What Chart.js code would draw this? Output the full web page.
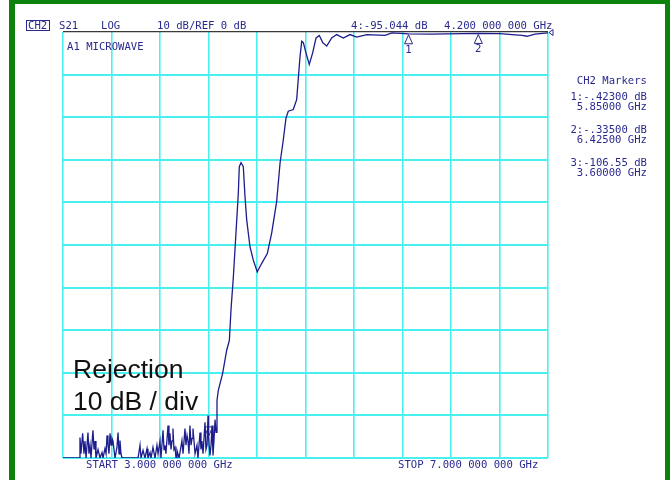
<!DOCTYPE html>
<html lang="en">
<head>
    <meta charset="UTF-8">
    <title>S21 Microwave Rejection</title>
    <script src="https://cdn.jsdelivr.net/npm/chart.js@4.4.0/dist/chart.umd.min.js"></script>
    <style>
        body{
            margin: 0;
            background: white;
            overflow: hidden;
        }
        #wrap{
            position: relative;
            width: 670px;
            height: 480px;
        }
        #frame{
            position: absolute;
            left: 9px;
            top: -2px;
            width: 650px;
            height: 500px;
            border: 6px solid #0c820c;
            pointer-events: none;
        }
    </style>
</head>
<body>
<div id="wrap">
    <canvas id="myChart" width="670" height="480"></canvas>
    <div id="frame"></div>
</div>
<script>
// frequency in GHz, S21 in dB
var freqs = [3.000,3.132,3.140,3.148,3.162,3.173,3.181,3.190,3.206,3.214,3.223,3.231,3.247,3.256,3.264,3.272,
    3.289,3.305,3.322,3.330,3.346,3.355,3.363,3.371,3.379,3.388,3.396,3.404,3.412,3.429,3.445,3.454,3.462,3.470,
    3.478,3.487,3.619,3.635,3.643,3.660,3.676,3.693,3.701,3.718,3.726,3.742,3.759,3.775,3.784,3.800,3.808,3.825,
    3.833,3.841,3.849,3.866,3.874,3.882,3.891,3.899,3.907,3.915,3.924,3.932,3.940,3.957,3.965,3.981,3.990,4.006,
    4.014,4.023,4.031,4.039,4.047,4.056,4.064,4.072,4.089,4.105,4.113,4.130,4.138,4.146,4.155,4.171,4.179,4.188,
    4.196,4.200,4.212,4.221,4.229,4.237,4.245,4.254,4.262,4.270,4.281,4.317,4.350,4.372,4.386,4.405,4.433,4.446,
    4.454,4.468,4.487,4.501,4.515,4.542,4.569,4.602,4.639,4.685,4.721,4.762,4.790,4.817,4.839,4.858,4.899,4.927,
    4.941,4.955,4.969,4.982,5.004,5.031,5.059,5.087,5.114,5.142,5.175,5.216,5.257,5.312,5.367,5.422,5.507,5.656,
    5.713,5.850,6.043,6.291,6.425,6.604,6.703,6.786,6.827,6.893,7.000];
var s21 = [-100,-100,-95.2,-99,-94.2,-99,-96,-100,-94,-99,-97,-100,-93.5,-98,-96,-100,
    -98,-100,-98.7,-100,-97.8,-99,-94.7,-97,-99,-94.2,-97,-95.4,-96,-100,-97.5,-94,-99,-95.9,
    -99,-100,-100,-97,-100,-98.2,-100,-97.8,-100,-98.7,-100,-97.5,-100,-97,-99,-96,-100,-93.5,
    -98,-97,-99,-92.4,-97,-94.2,-98,-96,-93.1,-98,-97.5,-100,-98.2,-100,-98.7,-95.9,-99,-93.1,
    -97,-94.7,-96,-99,-92.4,-97,-95.4,-93.1,-99,-97,-100,-94,-98,-96,-99,-91.6,-98,-97,
    -90,-95.04,-99.4,-97,-92.4,-99.4,-96,-91,-94,-86.5,-84.1,-80.1,-74.7,-72.4,-65,-57.5,-44.1,-37.8,
    -31.6,-30.7,-31.6,-38.6,-44.1,-50.4,-53.5,-56.3,-54.3,-52,-47.2,-39.8,-30.8,-25.3,-20.2,-18.6,-18.2,-15.9,
    -10.8,-5.7,-2.2,-2.5,-4.9,-7.6,-4.9,-1.4,-0.8,-2.5,-3.3,-1.4,-0.6,-1.4,-0.6,-1.2,-0.6,-0.8,
    -0.2,-0.42,-0.5,-0.4,-0.34,-0.4,-0.6,-0.8,-1.0,-0.5,-0.2];

// markers: 1 and 2 in the passband, 3 off screen, 4 active
var markerNum = [1, 2, 3, 4];
var markerFreq = [5.85, 6.425, 3.6, 4.2];
var markerDb = [-0.423, -0.335, -106.55, -95.044];

var xMin = 3, xMax = 7, xStep = 0.4;
var yMin = -100, yMax = 0, yStep = 10;

var navy = '#2a2a8e';
var cyan = 'rgb(72,240,240)';

function fmtMarkerDb(v){
    var s = Math.abs(v) < 1 ? v.toFixed(5).replace('0.', '.') : v.toFixed(2);
    return s;
}

var screenText = {
    id: 'screenText',
    afterDraw: function(chart){
        var c = chart.ctx;
        var xs = chart.scales.x, ys = chart.scales.y;
        c.save();
        c.font = '10.6px "DejaVu Sans Mono"';
        c.fillStyle = navy;
        c.strokeStyle = navy;
        c.textBaseline = 'middle';
        c.textAlign = 'left';

        // header line
        c.lineWidth = 1;
        c.strokeRect(26.5, 20.5, 23, 10);
        c.fillText('CH2', 28, 26);
        c.fillText('S21', 59, 26);
        c.fillText('LOG', 101, 26);
        c.fillText(yStep + ' dB/REF ' + yMax + ' dB', 157, 26);
        c.fillText('4:' + markerDb[3].toFixed(3) + ' dB', 351, 26);
        c.fillText('4.200 000 000 GHz', 444, 26);
        c.fillText('A1 MICROWAVE', 67, 47);

        // start / stop
        c.fillText('START ' + xMin.toFixed(3) + ' 000 000 GHz', 86, 465);
        c.fillText('STOP ' + xMax.toFixed(3) + ' 000 000 GHz', 398, 465);

        // marker table
        c.textAlign = 'right';
        c.fillText('CH2 Markers', 647, 81);
        for (var i = 0; i < 3; i++) {
            var y0 = 97 + i * 33;
            c.fillText(markerNum[i] + ':' + fmtMarkerDb(markerDb[i]) + ' dB', 647, y0);
            c.fillText(markerFreq[i].toFixed(5) + ' GHz', 647, y0 + 10);
        }

        // reference level marker at right end
        var rx = xs.right + 1, ry = ys.top + 0.5;
        c.beginPath();
        c.moveTo(rx, ry);
        c.lineTo(rx + 4, ry - 3);
        c.lineTo(rx + 4, ry + 3);
        c.closePath();
        c.fillStyle = 'white';
        c.fill();
        c.stroke();

        // markers 1 and 2 (up triangles under the trace)
        c.textAlign = 'center';
        c.fillStyle = navy;
        for (var j = 0; j < 2; j++) {
            var px = xs.getPixelForValue(markerFreq[j]);
            var py = ys.getPixelForValue(markerDb[j]) + 1;
            c.beginPath();
            c.moveTo(px, py);
            c.lineTo(px - 4, py + 9);
            c.lineTo(px + 4, py + 9);
            c.closePath();
            c.stroke();
            c.fillText(String(markerNum[j]), px, py + 15);
        }

        // active marker 4 (down triangle above the trace)
        var mx = xs.getPixelForValue(markerFreq[3]);
        var my = ys.getPixelForValue(markerDb[3]);
        c.beginPath();
        c.moveTo(mx, my);
        c.lineTo(mx - 4, my - 10);
        c.lineTo(mx + 4, my - 10);
        c.closePath();
        c.stroke();

        // big annotation
        c.textAlign = 'left';
        c.fillStyle = '#111';
        c.font = '26.5px "Liberation Sans", Arial, sans-serif';
        c.fillText('Rejection', 73, 371);
        c.fillText('10 dB / div', 73, 403);
        c.restore();
    }
};

new Chart('myChart', {
    type: 'line',
    data: {
        datasets: [{
            data: freqs.map(function(f, i){ return {x: f, y: s21[i]}; }),
            borderColor: '#1c1c8c',
            borderWidth: 1.3,
            pointRadius: 0,
            tension: 0,
            fill: false
        }]
    },
    options: {
        responsive: false,
        animation: false,
        events: [],
        layout: {padding: {left: 63, right: 122, top: 32, bottom: 22}},
        plugins: {
            legend: {display: false},
            tooltip: {enabled: false}
        },
        scales: {
            x: {
                type: 'linear',
                min: xMin,
                max: xMax,
                ticks: {display: false, stepSize: xStep},
                grid: {color: cyan, lineWidth: 1.6, drawTicks: false},
                border: {display: false}
            },
            y: {
                min: yMin,
                max: yMax,
                ticks: {display: false, stepSize: yStep},
                grid: {
                    color: function(ctx){ return ctx.tick && ctx.tick.value === yMax ? '#3a3a3a' : cyan; },
                    lineWidth: function(ctx){ return ctx.tick && ctx.tick.value === yMax ? 1.2 : 2; },
                    drawTicks: false
                },
                border: {display: false}
            }
        }
    },
    plugins: [screenText]
});
</script>
</body>
</html>
